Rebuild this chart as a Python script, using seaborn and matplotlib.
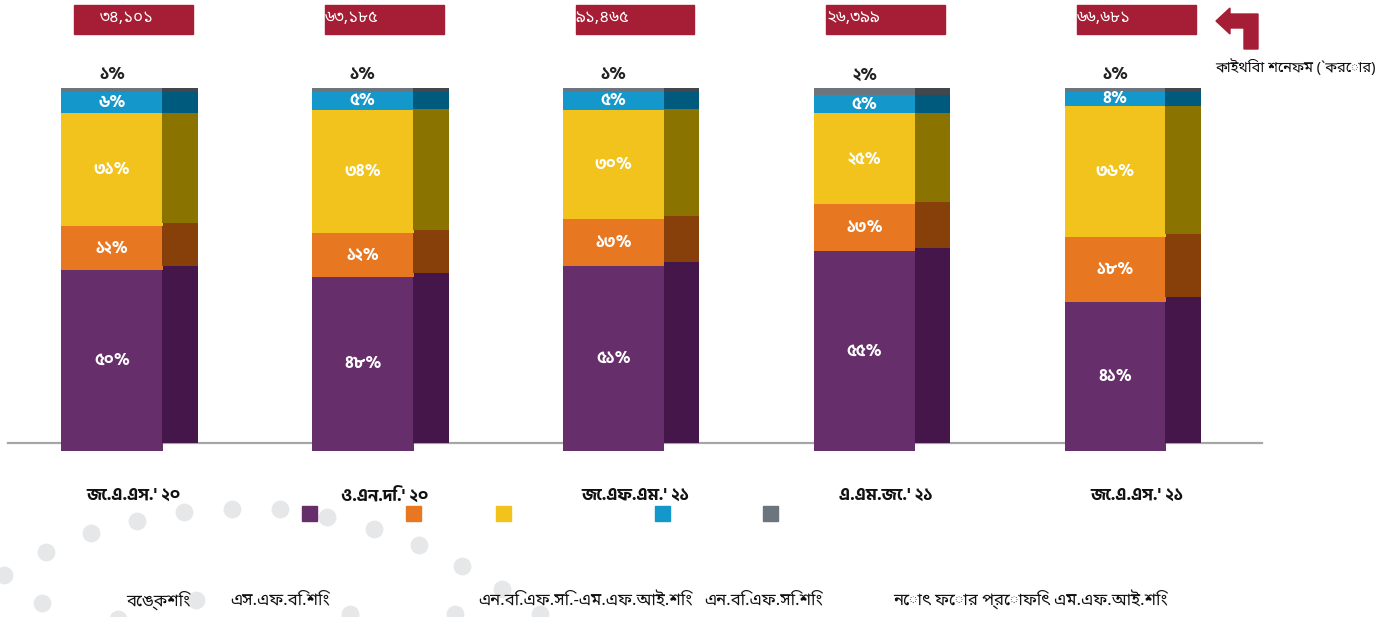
import numpy as np
import matplotlib
matplotlib.use("Agg")
import matplotlib.pyplot as plt
import seaborn as sns
from matplotlib import font_manager
from matplotlib.ft2font import FT2Font
from matplotlib.patches import Rectangle, Polygon

# ---- data ----
periods = ["জে.এ.এস.' ২০", "ও.এন.দি.' ২০", "জে.এফ.এম.' ২১", "এ.এম.জে.' ২১", "জে.এ.এস.' ২১"]
totals = [34101, 63185, 91465, 26399, 66681]
banking = [50, 48, 51, 55, 41]
sfb = [12, 12, 13, 13, 18]
nbfc_mfi = [31, 34, 30, 25, 36]
nbfc = [6, 5, 5, 5, 4]
npmfi = [1, 1, 1, 2, 1]
segments = ["বেঙ্কশিং", "এস.এফ.বি.শিং", "এন.বি.এফ.সি.-এম.এফ.আই.শিং",
            "এন.বি.এফ.সি.শিং", "নোৎ ফোর প্রোফিৎ এম.এফ.আই.শিং"]
unit_note = "কাইথিবা শেনফম (`করোর)"

front_cols = ["#662E6B", "#E87722", "#F1C31C", "#1497CB", "#6C757D"]
side_cols = ["#451649", "#87400A", "#8B7300", "#005A7D", "#41474D"]
box_col = "#A51E36"

# background dots (decoration), pixel coords
deco_dots = [(4, 575), (46, 552), (91, 533), (137, 521), (184, 512), (232, 509), (280, 509),
             (327, 517), (374, 529), (419, 545), (462, 566), (502, 589), (540, 614),
             (42, 603), (118, 619), (196, 600), (350, 614), (455, 614)]

BN = str.maketrans("0123456789", "০১২৩৪৫৬৭৮৯")
def bn(s):
    return str(s).translate(BN)

# installed fonts that have bengali glyphs
def bengali_fonts():
    names = []
    for f in font_manager.fontManager.ttflist:
        try:
            cmap = FT2Font(f.fname).get_charmap()
        except Exception:
            continue
        if 0x0995 in cmap and f.name not in names:
            names.append(f.name)
    return names

def first_of(prefer, found):
    hit = [n for n in prefer if n in found]
    if not hit:
        hit = [n for n in found if "Mono" not in n and "nifont" not in n]
    return hit[:1]

found = bengali_fonts()
regular_fam = first_of(["Noto Sans Bengali", "Lohit Bengali", "Hind Siliguri", "FreeSans"], found) + ["DejaVu Sans"]
bold_fam = first_of(["Hind Siliguri", "Noto Sans Bengali", "FreeSans"], found) + ["DejaVu Sans"]

sns.set_style("white")
plt.rcParams["font.family"] = regular_fam

W, H = 1392, 617
fig = plt.figure(figsize=(W / 100, H / 100), dpi=100)

# pixel-space layer for decorations and the legend
bg = fig.add_axes([0, 0, 1, 1], zorder=0)
bg.set_xlim(0, W)
bg.set_ylim(H, 0)
bg.axis("off")
bg.scatter([d[0] for d in deco_dots], [d[1] for d in deco_dots], s=165, color="#E6E7E8", linewidths=0)

ax = fig.add_axes([8 / W, (H - 451) / H, 1254 / W, 363 / H], zorder=1)
ax.patch.set_alpha(0)

layers = [banking, sfb, nbfc_mfi, nbfc, npmfi]
xs = np.arange(len(periods))
x_front = xs - 0.085
x_side = xs + 0.186
dy = 2.2                      # depth offset of the side face
k = (100 - dy) / 100

bottom = np.zeros(len(periods))
for j, vals in enumerate(layers):
    vals = np.array(vals, dtype=float)
    sns.barplot(x=x_front, y=vals, bottom=bottom, native_scale=True, width=0.404,
                color=front_cols[j], saturation=1, linewidth=0, errorbar=None, ax=ax, zorder=3)
    sns.barplot(x=x_side, y=vals * k, bottom=dy + bottom * k, native_scale=True, width=0.142,
                color=side_cols[j], saturation=1, linewidth=0, errorbar=None, ax=ax, zorder=3)
    for i, v in enumerate(vals):
        if j < 4:
            ax.text(x_front[i], bottom[i] + v / 2, bn(int(v)) + "%", color="white",
                    ha="center", va="center", fontsize=12, fontweight="bold",
                    family=bold_fam, zorder=5)
        else:
            ax.text(x_front[i], 103.6, bn(int(v)) + "%", color="#222222", fontweight="bold",
                    family=bold_fam, ha="center", va="center", fontsize=12.5, zorder=5, clip_on=False)
    bottom = bottom + vals

# totals in red boxes
for i, t in enumerate(totals):
    ax.add_patch(Rectangle((i - 0.237, 114.9), 0.474, 8.0, color=box_col, clip_on=False, zorder=4))
    if i == 0:
        ax.text(i - 0.025, 119.2, bn(f"{t:,}"), color="white", ha="center", va="center",
                fontsize=12, clip_on=False, zorder=5)
    else:
        ax.text(i - 0.237, 119.2, bn(f"{t:,}"), color="white", ha="left", va="center",
                fontsize=12, clip_on=False, zorder=5)

ax.set_xlim(-0.5, len(periods) - 0.5)
ax.set_ylim(0, 100)
ax.set_xlabel("")
ax.set_ylabel("")
for s in ["left", "right", "top"]:
    ax.spines[s].set_visible(False)
ax.spines["bottom"].set_position(("data", 2.1))
ax.spines["bottom"].set_color("#A6A6A6")
ax.spines["bottom"].set_linewidth(1.6)
ax.spines["bottom"].set_zorder(2)
ax.set_yticks([])
ax.set_xticks(xs)
ax.set_xticklabels(periods, fontsize=12.5, fontweight="bold", family=bold_fam, color="#111111")
ax.set_xticks(np.arange(-0.5, len(periods), 1), minor=True)
ax.tick_params(axis="x", which="major", length=0, pad=32)
ax.tick_params(axis="x", which="minor", length=6, width=1.5, color="#A6A6A6", direction="out")

# legend: swatches on one row, names on another
sw_x = [302, 406, 496, 655, 763]
name_x = [126, 230, 478, 704, 893]
for j in range(5):
    bg.add_patch(Rectangle((sw_x[j], 506), 15, 15, color=front_cols[j], zorder=3))
    bg.text(name_x[j], 600, segments[j], ha="left", va="center", fontsize=12, color="#111111", zorder=3)

# bent arrow + unit note
arrow = [(1216, 21), (1230, 8), (1230, 14), (1258, 14), (1258, 49), (1244, 49),
         (1244, 28), (1230, 28), (1230, 34)]
bg.add_patch(Polygon(arrow, closed=True, color=box_col, zorder=3))
bg.text(1215, 68, unit_note, ha="left", va="center", fontsize=10.5, color="#111111", zorder=3)

fig.savefig("out.png", dpi=100)
